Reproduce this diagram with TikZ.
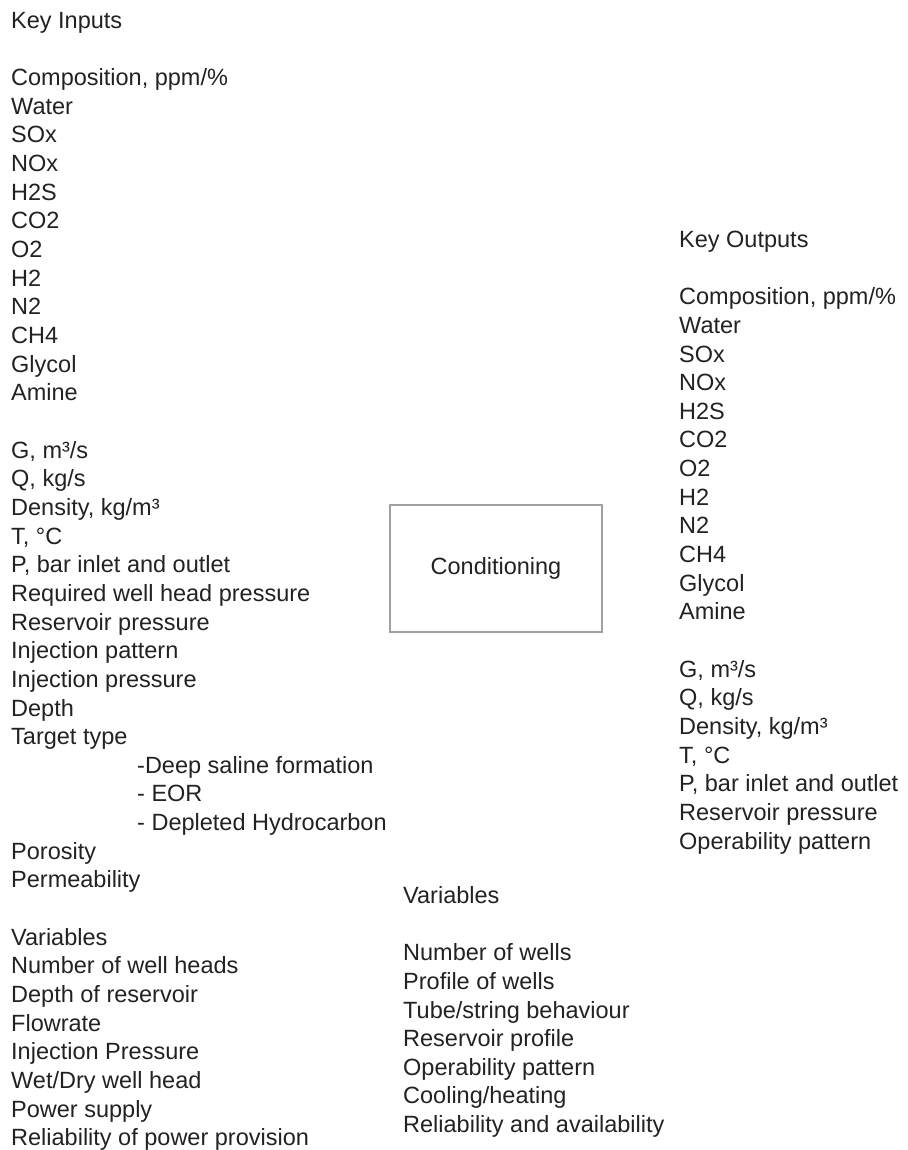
\documentclass[tikz,border=0pt]{standalone}
\usepackage{fontspec}
\setmainfont{Liberation Sans}
\definecolor{inkc}{RGB}{34,34,34}
\definecolor{framec}{RGB}{160,160,160}
\tikzset{
  txt/.style={anchor=base west, inner sep=0pt, text=inkc,
    font=\fontsize{23.5}{28.65}\selectfont},
  procbox/.style={draw=framec, line width=1.1pt, minimum width=212pt,
    minimum height=127pt, inner sep=0pt, text=inkc,
    font=\fontsize{23.5}{28.65}\selectfont}
}
\begin{document}
\begin{tikzpicture}[x=1pt,y=-1pt]
\useasboundingbox (0,0) rectangle (907,1150);
% Inputs column: line number / text
\foreach \n/\t in {0/Key Inputs, 2/{Composition, ppm/\%}, 3/Water, 4/SOx, 5/NOx,
  6/H2S, 7/CO2, 8/O2, 9/H2, 10/N2, 11/CH4, 12/Glycol, 13/Amine,
  15/{G, m³/s}, 16/{Q, kg/s}, 17/{Density, kg/m³}, 18/{T, °C},
  19/{P, bar inlet and outlet}, 20/Required well head pressure,
  21/Reservoir pressure, 22/Injection pattern, 23/Injection pressure,
  24/Depth, 25/Target type, 29/Porosity, 30/Permeability,
  32/Variables, 33/Number of well heads, 34/Depth of reservoir,
  35/Flowrate, 36/Injection Pressure, 37/{Wet/Dry well head},
  38/Power supply, 39/Reliability of power provision}
  \node[txt] (in-\n) at (11, 28.4+\n*28.65) {\t};
% Target type sub-items
\foreach \n/\t in {26/-Deep saline formation, 27/- EOR, 28/- Depleted Hydrocarbon}
  \node[txt] (in-\n) at (137, 28.4+\n*28.65) {\t};
% Process block
\node[procbox] (cond) at (496, 568.5) {Conditioning};
% Outputs column
\foreach \n/\t in {0/Key Outputs, 2/{Composition, ppm/\%}, 3/Water, 4/SOx, 5/NOx,
  6/H2S, 7/CO2, 8/O2, 9/H2, 10/N2, 11/CH4, 12/Glycol, 13/Amine,
  15/{G, m³/s}, 16/{Q, kg/s}, 17/{Density, kg/m³}, 18/{T, °C},
  19/{P, bar inlet and outlet}, 20/Reservoir pressure, 21/Operability pattern}
  \node[txt] (out-\n) at (679, 247.4+\n*28.65) {\t};
% Process variables
\foreach \n/\t in {0/Variables, 2/Number of wells, 3/Profile of wells,
  4/{Tube/string behaviour}, 5/Reservoir profile, 6/Operability pattern,
  7/{Cooling/heating}, 8/Reliability and availability}
  \node[txt] (var-\n) at (403, 903.4+\n*28.65) {\t};
\end{tikzpicture}
\end{document}
